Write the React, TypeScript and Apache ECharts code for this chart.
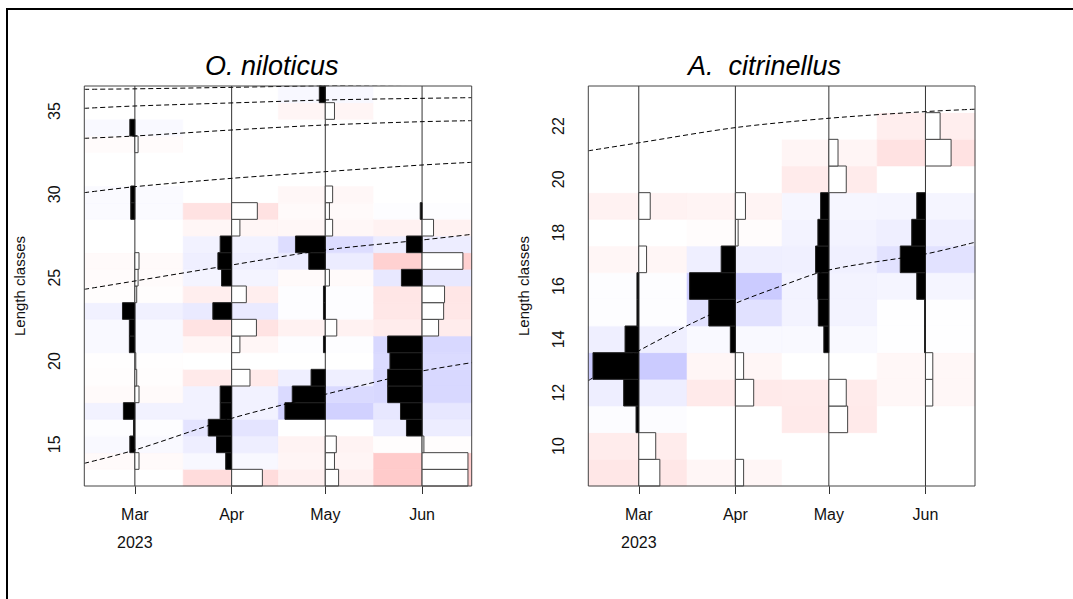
import React, { useEffect, useRef } from "react";
import * as echarts from "echarts";

// ---------- data ----------
// x values are days since 1 Mar 2023
const MONTH_DAYS = [0, 31, 61, 92];
const MONTH_LABELS = ["Mar", "Apr", "May", "Jun"];
const YEAR_LABEL = "2023";
const SAMPLE_DAYS = [0, 31, 61, 92];
const X_MIN = -16.2;
const X_MAX = 107.9;

const TITLE_NIL = "O. niloticus";
const TITLE_CIT = "A.  citrinellus";
const Y_NAME = "Length classes";

// O. niloticus: length classes 13..36, restructured scores per sample (low -> high class)
const NIL_CLASSES = [13, 14, 15, 16, 17, 18, 19, 20, 21, 22, 23, 24, 25, 26, 27, 28, 29, 30, 31, 32, 33, 34, 35, 36];
const NIL_MAR = [0, -0.09, 0.11, 0.03, 0.25, -0.09, -0.04, -0.02, 0.12, 0.12, 0.27, -0.04, -0.07, -0.09, 0, 0, 0.09, 0.09, 0, 0, -0.07, 0.11, 0, 0];
const NIL_APR = [-0.67, 0.13, 0.33, 0.51, 0.25, 0.25, -0.4, 0, -0.18, -0.54, 0.41, -0.32, 0.22, 0.3, 0.25, -0.18, -0.56, 0, 0, 0, 0, 0, 0, 0];
const NIL_MAY = [-0.29, -0.2, -0.24, 0, 0.88, 0.72, 0.31, 0, 0.04, -0.25, 0.04, 0.04, -0.09, 0.36, 0.65, -0.16, -0.09, -0.16, 0, 0, 0, 0, -0.2, 0.13];
const NIL_JUN = [-1.0, -1.0, -0.04, 0.34, 0.47, 0.75, 0.75, 0.7, 0.75, -0.36, -0.47, -0.49, 0.45, -0.89, 0.34, -0.25, 0.04, 0, 0, 0, 0, 0, 0, 0];
const NIL_Y_TICKS = [15, 20, 25, 30, 35];
const NIL_Y_MIN = 12.5;
const NIL_Y_MAX = 36.5;

// A. citrinellus: length classes 9..23
const CIT_CLASSES = [9, 10, 11, 12, 13, 14, 15, 16, 17, 18, 19, 20, 21, 22, 23];
const CIT_MAR = [-0.46, -0.37, 0.06, 0.33, 1.0, 0.3, 0.04, 0.04, -0.17, 0, -0.25, 0, 0, 0, 0];
const CIT_APR = [-0.18, 0, 0, -0.4, -0.18, 0.11, 0.58, 1.0, 0.31, -0.06, -0.22, 0, 0, 0, 0];
const CIT_MAY = [0, 0, -0.41, -0.38, 0, 0.11, 0.23, 0.24, 0.29, 0.24, 0.18, -0.38, -0.2, 0, 0];
const CIT_JUN = [0, 0, 0, -0.16, -0.16, 0.02, 0.02, 0.19, 0.55, 0.3, 0.19, 0, -0.56, -0.32, 0];
const CIT_Y_TICKS = [10, 12, 14, 16, 18, 20, 22];
const CIT_Y_MIN = 8.5;
const CIT_Y_MAX = 23.5;

// growth curves: [day, length]
const NIL_CURVES = [
  [[-16.2, 36.3], [0, 36.33], [31, 36.42], [61, 36.52], [92, 36.6], [107.9, 36.62]],
  [[-16.2, 35.16], [0, 35.3], [37, 35.52], [61, 35.66], [92, 35.76], [107.9, 35.8]],
  [[-16.2, 33.36], [0, 33.5], [31, 33.86], [61, 34.16], [92, 34.36], [107.9, 34.42]],
  [[-16.2, 30.1], [0, 30.46], [31, 30.96], [61, 31.36], [92, 31.76], [107.9, 31.92]],
  [[-16.2, 24.3], [0, 24.8], [31, 25.76], [61, 26.66], [92, 27.26], [107.9, 27.6]],
  [[-16.2, 13.86], [0, 14.66], [31, 16.56], [61, 18.0], [81, 18.92], [92, 19.4], [107.9, 19.9]],
];
const CIT_CURVES = [
  [[-16.2, 21.07], [0, 21.37], [31, 21.94], [61, 22.29], [92, 22.54], [107.9, 22.63]],
  [[-16.2, 12.45], [0, 13.57], [16, 14.54], [31, 15.35], [45, 15.97], [61, 16.6], [92, 17.2], [107.9, 17.64]],
];

// ---------- style ----------
const FONT = "'Liberation Sans', Arial, Helvetica, sans-serif";
const BAR_DAYS = 14.7; // bar length (days) for a score of 1
const GRIDS = [
  { left: 84.3, top: 86, width: 387.4, height: 400 },
  { left: 588.3, top: 86, width: 386.7, height: 400 },
];

function cellColor(s: number) {
  const t = Math.min(1, Math.abs(s));
  const v = Math.round(255 - 52 * t);
  if (s > 0) return `rgb(${v},${v},255)`;
  if (s < 0) return `rgb(255,${v},${v})`;
  return "rgb(255,255,255)";
}

function buildCells(classes: number[], cols: number[][]) {
  const out: number[][] = [];
  cols.forEach((col, i) => {
    const left = i === 0 ? X_MIN : (SAMPLE_DAYS[i - 1] + SAMPLE_DAYS[i]) / 2;
    const right = i === cols.length - 1 ? X_MAX : (SAMPLE_DAYS[i] + SAMPLE_DAYS[i + 1]) / 2;
    col.forEach((s, j) => out.push([left, right, classes[j], s]));
  });
  return out;
}
function buildBars(classes: number[], cols: number[][]) {
  const out: number[][] = [];
  cols.forEach((col, i) => {
    col.forEach((s, j) => {
      if (s !== 0) out.push([SAMPLE_DAYS[i], classes[j], s]);
    });
  });
  return out;
}

function panelSeries(idx: number, classes: number[], cols: number[][], curves: number[][][]) {
  const series: any[] = [];
  series.push({
    type: "custom",
    xAxisIndex: idx,
    yAxisIndex: idx,
    silent: true,
    z: 1,
    data: buildCells(classes, cols),
    renderItem: (params: any, api: any) => {
      const p0 = api.coord([api.value(0), api.value(2) + 0.5]);
      const p1 = api.coord([api.value(1), api.value(2) - 0.5]);
      const c = cellColor(api.value(3));
      return {
        type: "rect",
        shape: { x: p0[0], y: p0[1], width: p1[0] - p0[0], height: p1[1] - p0[1] },
        style: { fill: c, stroke: c, lineWidth: 0.6 },
      };
    },
  });
  series.push({
    type: "custom",
    xAxisIndex: idx,
    yAxisIndex: idx,
    silent: true,
    z: 2,
    data: SAMPLE_DAYS.map((d) => [d]),
    renderItem: (params: any, api: any) => {
      const cs = params.coordSys;
      const x = api.coord([api.value(0), NIL_Y_MIN])[0];
      return {
        type: "line",
        shape: { x1: x, y1: cs.y, x2: x, y2: cs.y + cs.height },
        style: { stroke: "#333", lineWidth: 1 },
      };
    },
  });
  series.push({
    type: "custom",
    xAxisIndex: idx,
    yAxisIndex: idx,
    silent: true,
    z: 3,
    data: buildBars(classes, cols),
    renderItem: (params: any, api: any) => {
      const d = api.value(0);
      const c = api.value(1);
      const s = api.value(2);
      const a = api.coord([d, c + 0.5]);
      const b = api.coord([d - s * BAR_DAYS, c - 0.5]);
      const x0 = Math.min(a[0], b[0]);
      const w = Math.abs(a[0] - b[0]);
      return {
        type: "rect",
        shape: { x: x0, y: a[1], width: w, height: b[1] - a[1] },
        style: s > 0 ? { fill: "#000", stroke: "#222", lineWidth: 1 } : { fill: "#fff", stroke: "#444", lineWidth: 1 },
      };
    },
  });
  curves.forEach((cv) => {
    series.push({
      type: "line",
      xAxisIndex: idx,
      yAxisIndex: idx,
      silent: true,
      z: 4,
      symbol: "none",
      smooth: 0.3,
      clip: true,
      data: cv,
      lineStyle: { color: "#000", width: 1, type: [5, 3] },
    });
  });
  return series;
}

function xAxis(idx: number) {
  return {
    type: "value",
    gridIndex: idx,
    min: X_MIN,
    max: X_MAX,
    splitLine: { show: false },
    axisLine: { show: false },
    axisTick: { show: true, length: 8, customValues: MONTH_DAYS, lineStyle: { color: "#333" } },
    axisLabel: {
      customValues: MONTH_DAYS,
      margin: 21,
      fontSize: 16,
      lineHeight: 14,
      fontFamily: FONT,
      color: "#111",
      verticalAlign: "top",
      formatter: (v: number) => {
        const i = MONTH_DAYS.indexOf(v);
        if (i < 0) return "";
        return i === 0 ? `${MONTH_LABELS[i]}\n\n${YEAR_LABEL}` : MONTH_LABELS[i];
      },
    },
  };
}
function yAxis(idx: number, min: number, max: number, ticks: number[]) {
  return {
    type: "value",
    gridIndex: idx,
    min,
    max,
    splitLine: { show: false },
    axisLine: { show: false },
    axisTick: { show: true, length: 8, customValues: ticks, lineStyle: { color: "#333" } },
    axisLabel: {
      customValues: ticks,
      rotate: 90,
      margin: 22,
      fontSize: 16,
      fontFamily: FONT,
      color: "#111",
    },
    name: Y_NAME,
    nameLocation: "middle",
    nameRotate: 90,
    nameGap: 57,
    nameTextStyle: { fontSize: 15, fontFamily: FONT, color: "#111" },
  };
}

export default function App() {
  const ref = useRef<HTMLDivElement>(null);
  useEffect(() => {
    if (!ref.current) return;
    const chart = echarts.init(ref.current, undefined, { renderer: "svg" });
    const option: any = {
      animation: false,
      backgroundColor: "#fff",
      grid: GRIDS.map((g) => ({ ...g, containLabel: false, show: false })),
      xAxis: [xAxis(0), xAxis(1)],
      yAxis: [yAxis(0, NIL_Y_MIN, NIL_Y_MAX, NIL_Y_TICKS), yAxis(1, CIT_Y_MIN, CIT_Y_MAX, CIT_Y_TICKS)],
      series: [
        ...panelSeries(0, NIL_CLASSES, [NIL_MAR, NIL_APR, NIL_MAY, NIL_JUN], NIL_CURVES),
        ...panelSeries(1, CIT_CLASSES, [CIT_MAR, CIT_APR, CIT_MAY, CIT_JUN], CIT_CURVES),
      ],
      graphic: [
        {
          type: "polyline",
          z: 100,
          silent: true,
          shape: { points: [[7, 599], [7, 9], [1073, 9]] },
          style: { stroke: "#000", lineWidth: 2, fill: null },
        },
        ...GRIDS.map((g) => ({
          type: "rect",
          z: 100,
          silent: true,
          shape: { x: g.left, y: g.top, width: g.width, height: g.height },
          style: { fill: null, stroke: "#444", lineWidth: 1 },
        })),
        {
          type: "text",
          z: 100,
          left: 205,
          top: 52,
          style: { text: TITLE_NIL, fontSize: 27, fontStyle: "italic", fontFamily: FONT, fill: "#000" },
        },
        {
          type: "text",
          z: 100,
          left: 688,
          top: 52,
          style: { text: TITLE_CIT, fontSize: 27, fontStyle: "italic", fontFamily: FONT, fill: "#000" },
        },
      ],
    };
    chart.setOption(option);
    return () => chart.dispose();
  }, []);
  return <div ref={ref} style={{ position: "absolute", left: 0, top: 0, width: 1073, height: 599 }} />;
}
